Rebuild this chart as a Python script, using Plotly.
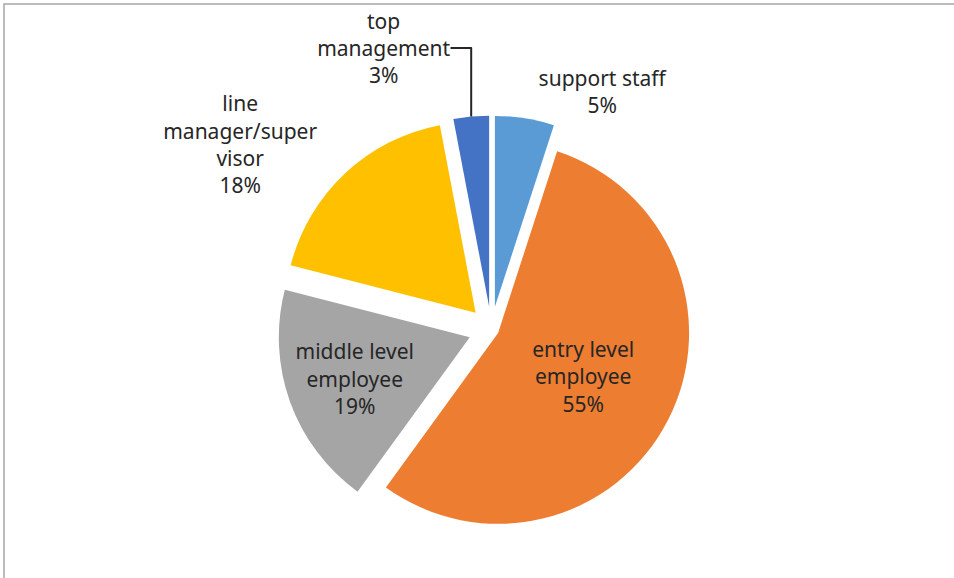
import plotly.graph_objects as go

# Data (clockwise from 12 o'clock)
categories = ["support staff", "entry level employee", "middle level employee",
              "line manager/supervisor", "top management"]
display_labels = ["support staff", "entry level<br>employee", "middle level<br>employee",
                  "line<br>manager/super<br>visor", "top<br>management"]
values = [5, 55, 19, 18, 3]
colors = ["#5B9BD5", "#ED7D31", "#A5A5A5", "#FFC000", "#4472C4"]

font = dict(family="Noto Sans", size=21, color="#262626")

fig = go.Figure(go.Pie(
    labels=categories,
    values=values,
    text=display_labels,
    texttemplate="%{text}<br>%{percent:.0%}",
    textposition=["outside", "inside", "inside", "outside", "outside"],
    insidetextorientation="horizontal",
    automargin=False,
    sort=False,
    direction="clockwise",
    rotation=0,
    pull=[0.12, 0.04, 0.12, 0.12, 0.12],
    marker=dict(colors=colors, line=dict(width=0)),
    textfont=font,
    insidetextfont=font,
    outsidetextfont=font,
    hoverinfo="label+percent",
    showlegend=False,
    domain=dict(x=[0.03, 1.0], y=[0.06, 0.8]),
))

fig.update_layout(
    width=954, height=578,
    margin=dict(l=0, r=0, t=0, b=0, autoexpand=False),
    paper_bgcolor="white",
    plot_bgcolor="white",
    uniformtext=dict(minsize=21, mode="show"),
    shapes=[dict(type="rect", xref="paper", yref="paper",
                 x0=0.0042, y0=-0.1, x1=1.1, y1=0.993,
                 line=dict(color="#A6A6A6", width=1.5), fillcolor="rgba(0,0,0,0)",
                 layer="below")],
)

fig.write_html("out.html", config={"displayModeBar": False},
               post_script="document.body.style.margin='0px';")
